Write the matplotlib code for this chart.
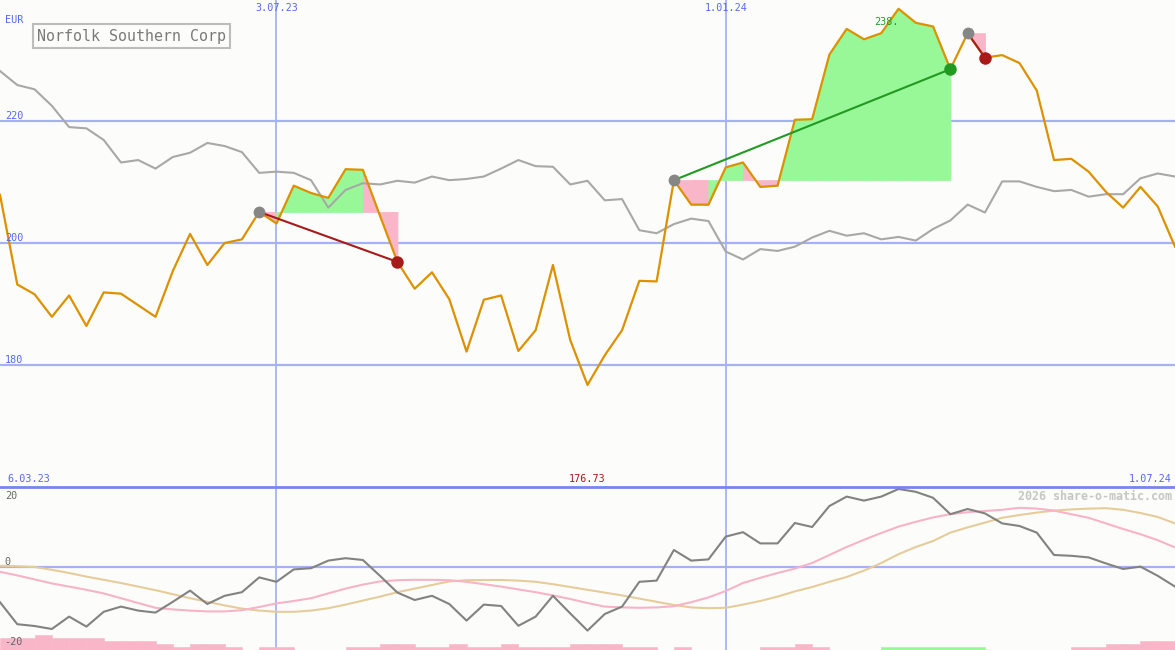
import matplotlib
matplotlib.use('Agg')
import matplotlib.pyplot as plt
import matplotlib.transforms as mtrans
import pandas as pd

# ---------------- data ----------------
dates = pd.date_range('2023-03-13', periods=69, freq='7D')

price = [207.9, 193.2, 191.6, 187.9, 191.4, 186.4, 191.9, 191.7, 189.8, 187.9,
         195.4, 201.5, 196.4, 200.0, 200.6, 205.1, 203.2, 209.4, 208.2, 207.4,
         212.1, 212.0, 204.4, 196.9, 192.5, 195.2, 190.8, 182.2, 190.7, 191.4,
         182.3, 185.7, 196.4, 184.1, 176.73, 181.6, 185.7, 193.8, 193.7, 210.3,
         206.3, 206.3, 212.4, 213.2, 209.2, 209.4, 220.2, 220.3, 230.9, 235.1,
         233.4, 234.4, 238.4, 236.1, 235.5, 228.5, 234.4, 230.4, 230.8, 229.5,
         225.0, 213.6, 213.8, 211.7, 208.4, 205.8, 209.2, 206.0, 199.4]

benchmark = [228.2, 225.9, 225.2, 222.5, 219.0, 218.8, 216.9, 213.2, 213.6, 212.2,
             214.1, 214.8, 216.4, 215.9, 214.9, 211.5, 211.7, 211.5, 210.3, 205.8,
             208.7, 209.8, 209.6, 210.2, 209.9, 210.9, 210.3, 210.5, 210.9, 212.2,
             213.6, 212.6, 212.5, 209.6, 210.2, 207.0, 207.2, 202.1, 201.6, 203.1,
             204.0, 203.6, 198.6, 197.3, 199.0, 198.7, 199.4, 200.9, 202.0, 201.2,
             201.6, 200.6, 201.0, 200.4, 202.3, 203.7, 206.3, 205.0, 210.1, 210.1,
             209.2, 208.5, 208.7, 207.6, 208.0, 208.0, 210.6, 211.4, 210.9]

momentum = [-8.8, -14.3, -14.75, -15.5, -12.4, -14.9, -11.2, -9.9, -10.9, -11.4,
            -8.7, -5.9, -9.25, -7.2, -6.3, -2.6, -3.7, -0.6, -0.3, 1.6,
            2.2, 1.75, -2.25, -6.4, -8.25, -7.2, -9.25, -13.4, -9.4, -9.75,
            -14.7, -12.4, -7.2, -11.6, -15.9, -11.75, -9.9, -3.7, -3.4, 4.25,
            1.6, 1.9, 7.6, 8.7, 5.9, 5.9, 11.0, 10.0, 15.25, 17.6,
            16.6, 17.6, 19.5, 18.8, 17.3, 13.2, 14.5, 13.4, 10.9, 10.25,
            8.6, 3.0, 2.8, 2.4, 0.9, -0.5, 0.1, -2.2, -4.9]

signal_fast = [-1.2, -2.1, -3.1, -4.1, -4.9, -5.7, -6.6, -7.8, -9.0, -10.2,
               -10.6, -10.9, -11.1, -11.1, -10.8, -10.0, -9.1, -8.5, -7.8, -6.6,
               -5.4, -4.4, -3.6, -3.3, -3.2, -3.2, -3.3, -3.7, -4.3, -4.9,
               -5.6, -6.3, -7.1, -8.0, -9.0, -9.9, -10.1, -10.2, -10.1, -9.8,
               -8.8, -7.6, -6.0, -4.0, -2.7, -1.5, -0.4, 1.0, 3.0, 5.0,
               6.8, 8.5, 10.1, 11.3, 12.4, 13.2, 13.7, 14.0, 14.3, 14.8,
               14.6, 14.1, 13.2, 12.3, 10.9, 9.5, 8.2, 6.7, 4.9]

signal_slow = [0.3, 0.2, 0.0, -0.7, -1.5, -2.4, -3.2, -4.0, -4.9, -5.8,
               -6.8, -7.8, -8.7, -9.6, -10.4, -10.9, -11.2, -11.2, -10.9, -10.3,
               -9.4, -8.4, -7.4, -6.3, -5.4, -4.5, -3.6, -3.3, -3.25, -3.25,
               -3.4, -3.7, -4.3, -5.0, -5.7, -6.4, -7.1, -7.9, -8.7, -9.5,
               -10.1, -10.3, -10.2, -9.4, -8.5, -7.4, -6.1, -5.0, -3.7, -2.5,
               -0.9, 1.0, 3.2, 5.0, 6.5, 8.6, 9.9, 11.1, 12.3, 13.0,
               13.6, 14.1, 14.4, 14.6, 14.7, 14.3, 13.5, 12.5, 10.9]

# weekly signal bars (negative = pink, positive = green), one per week interval
bar_levels = [-4, -4, -5, -4, -4, -4, -3, -3, -3, -2,
              -1, -2, -2, -1, 0, -1, -1, 0, 0, 0,
              -1, -1, -2, -2, -1, -1, -2, -1, -1, -2,
              -1, -1, -1, -2, -2, -2, -1, -1, 0, -1,
              0, 0, 0, 0, -1, -1, -2, -1, 0, 0,
              0, 1, 1, 1, 1, 1, 1, 0, 0, 0,
              0, 0, -1, -1, -2, -2, -3, -3]

trade_entries = [15, 39, 56]
trade_exits = [23, 55, 57]

price_ticks = [180, 200, 220]
vline_dates = pd.to_datetime(['2023-07-03', '2024-01-01'])
vline_labels = ['3.07.23', '1.01.24']
low_ticks = [20, 0, -20]
left_label = '6.03.23'
right_label = '1.07.24'
title = 'Norfolk Southern Corp'

# ---------------- style ----------------
W, H = 1175, 650
BG = '#fcfdfa'
GRID = '#a4b2f2'
BLUE_TXT = '#5468f0'
ORANGE = '#dd9100'
GREY = '#a8a8a8'
PINK = '#f9b6c9'
LGREEN = '#98f898'
DRED = '#a81a1a'
DGREEN = '#229a22'
MONO = 'DejaVu Sans Mono'

fig = plt.figure(figsize=(W / 100, H / 100), dpi=100, facecolor=BG)
split = 163 / H
ax1 = fig.add_axes([0, split, 1, 1 - split])
ax2 = fig.add_axes([0, 0, 1, split])
for ax in (ax1, ax2):
    ax.set_facecolor(BG)
    for s in ax.spines.values():
        s.set_visible(False)
    ax.set_xticks([])
    ax.set_yticks([])
    ax.set_xlim(dates[0], dates[-1])

ax1.set_ylim(160, 239.84)
ax2.set_ylim(-20.75, 20)

# grid
for v in price_ticks:
    ax1.axhline(v, color=GRID, lw=1.6, zorder=0.5)
ax2.axhline(0, color=GRID, lw=1.6, zorder=0.5)
for d in vline_dates:
    ax1.axvline(d, color=GRID, lw=1.3, zorder=0.5)
    ax2.axvline(d, color=GRID, lw=1.3, zorder=0.5)
ax2.axhline(20, color='#7686ee', lw=2.0, zorder=5, clip_on=False)

# trade fills
for e, x in zip(trade_entries, trade_exits):
    lvl = price[e]
    for i in range(e, x):
        col = LGREEN if price[i + 1] >= lvl else PINK
        ax1.fill_between(dates[i:i + 2], [lvl, lvl], price[i:i + 2],
                         facecolor=col, edgecolor=col, lw=0.6, zorder=1)

ax1.plot(dates, benchmark, color=GREY, lw=1.5, zorder=2)
ax1.plot(dates, price, color=ORANGE, lw=1.6, zorder=3)

for e, x in zip(trade_entries, trade_exits):
    win = price[x] > price[e]
    lc = DGREEN if win else DRED
    ax1.plot([dates[e], dates[x]], [price[e], price[x]], color=lc, lw=1.5, zorder=4)
    ax1.plot(dates[e], price[e], 'o', ms=8.5, color='#868686', mec='none', zorder=5)
    ax1.plot(dates[x], price[x], 'o', ms=9, color=lc, mec='none', zorder=5)

# lower panel
bar_h = [abs(b) * 0.75 for b in bar_levels]
bar_c = [LGREEN if b > 0 else PINK for b in bar_levels]
ax2.bar(dates[:-1], bar_h, width=7, align='edge', bottom=-20.75,
        color=bar_c, edgecolor=bar_c, lw=0.4, zorder=1)
ax2.plot(dates, signal_slow, color='#e6cc9a', lw=1.5, zorder=2)
ax2.plot(dates, signal_fast, color='#f7b3c8', lw=1.5, zorder=2)
ax2.plot(dates, momentum, color='#828282', lw=1.5, zorder=3)

# texts
bt1 = mtrans.blended_transform_factory(ax1.transAxes, ax1.transData)
for v in price_ticks:
    ax1.text(0.004, v + 0.82, str(v), transform=bt1, va='center', ha='left',
             fontsize=7.3, family=MONO, color=BLUE_TXT, zorder=6)
bt2 = mtrans.blended_transform_factory(ax2.transAxes, ax2.transData)
for v in low_ticks:
    yy = min(v + 1.25, 17.75)
    ax2.text(0.004, yy, str(v), transform=bt2, va='center', ha='left',
             fontsize=7.3, family=MONO, color='#666666', zorder=6)

bx1 = mtrans.blended_transform_factory(ax1.transData, fig.transFigure)
for d, lab in zip(vline_dates, vline_labels):
    ax1.text(d, 1 - 8 / H, lab, transform=bx1, ha='center', va='center',
             fontsize=7.3, family=MONO, color=BLUE_TXT)

fig.text(5 / W, 1 - 20 / H, 'EUR', fontsize=7.3, family=MONO, color=BLUE_TXT,
         va='center', ha='left')
fig.text(7 / W, 1 - 479 / H, left_label,
         fontsize=7.3, family=MONO, color=BLUE_TXT, va='center', ha='left')
fig.text(1172 / W, 1 - 479 / H, right_label, fontsize=7.3, family=MONO,
         color=BLUE_TXT, va='center', ha='right')

imin = min(range(len(price)), key=lambda i: price[i])
imax = max(range(len(price)), key=lambda i: price[i])
ax1.text(dates[imin], 1 - 479 / H, f'{price[imin]:.2f}', transform=bx1,
         ha='center', va='center', fontsize=7.3, family=MONO, color=DRED)
ax1.text(dates[imax] - pd.Timedelta(days=10), price[imax] - 2.1, f'{price[imax]:.0f}.',
         ha='left', va='center', fontsize=7.3, family=MONO, color=DGREEN, zorder=6)

fig.text(1172 / W, 1 - 496 / H, '2026 share-o-matic.com', fontsize=8.4,
         family=MONO, weight='bold', color='#c6c6c6', ha='right', va='center')

fig.text(37 / W, 1 - 36 / H, title, fontsize=10.8, family=MONO, color='#7a7a7a',
         ha='left', va='center',
         bbox=dict(boxstyle='square,pad=0.28', fc=BG, ec='#bdbdbd', lw=1.5))

fig.savefig('out.png', dpi=100, facecolor=BG)
